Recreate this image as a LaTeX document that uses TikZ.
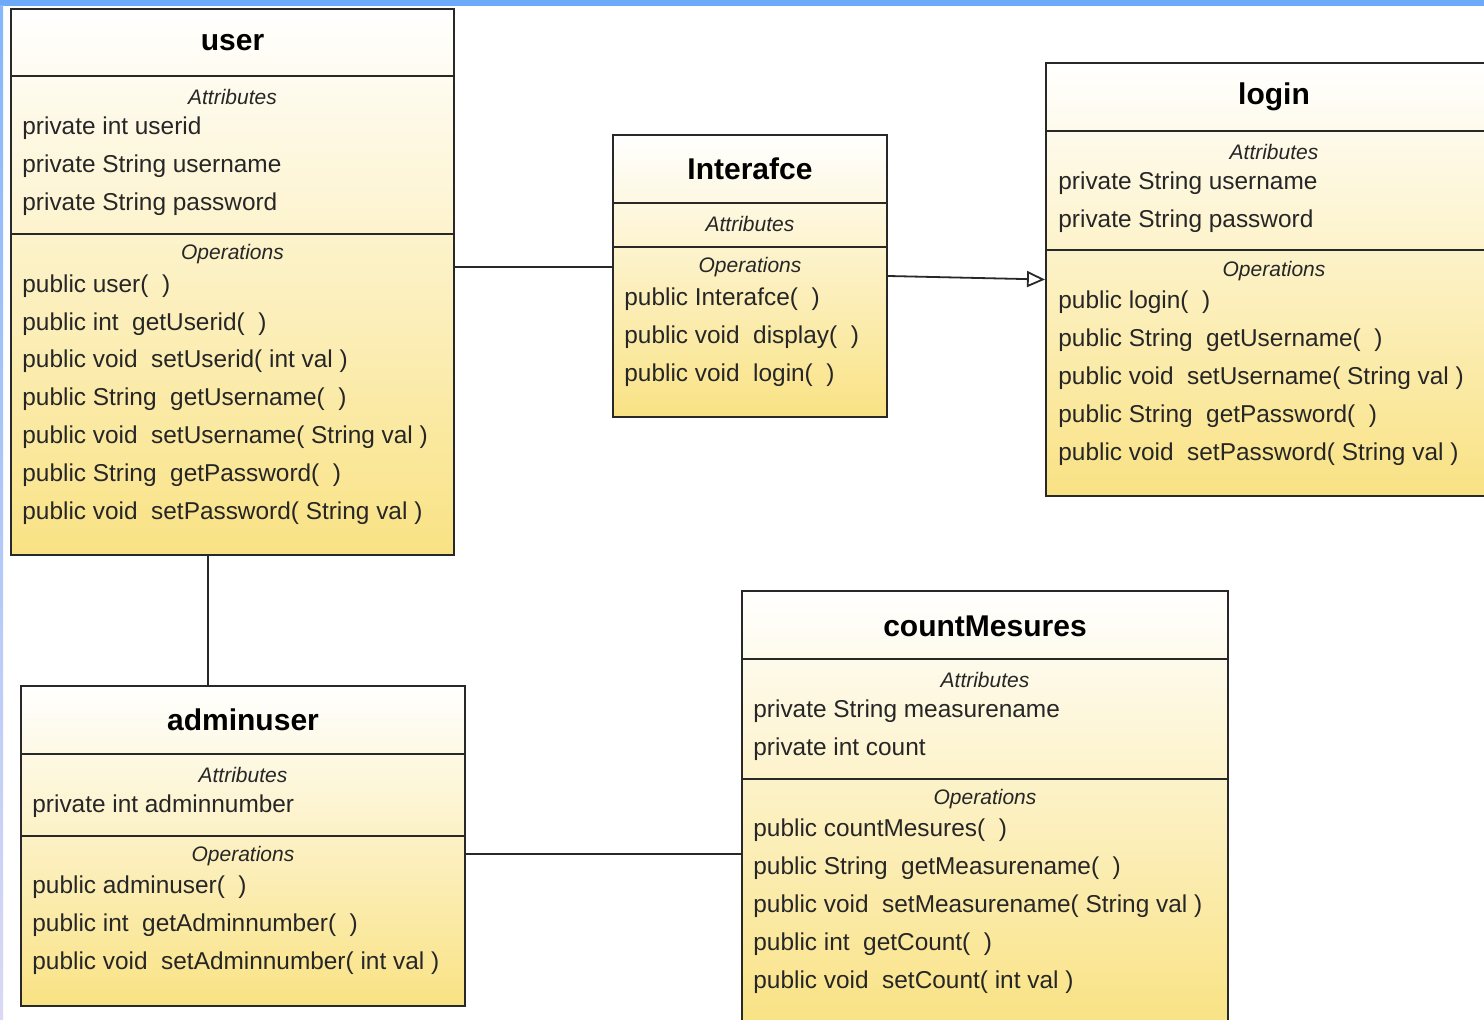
\documentclass[tikz,border=0pt]{standalone}
\usepackage{fontspec}
\setmainfont{Liberation Sans}
\usetikzlibrary{arrows.meta}
\definecolor{boxyellow}{RGB}{249,226,132}
\definecolor{boxline}{RGB}{40,40,40}
\definecolor{frameblue}{RGB}{110,170,250}
\definecolor{framelilac}{RGB}{218,216,245}

\begin{document}
\begin{tikzpicture}[x=0.5pt, y=-0.5pt,
    class/.style={draw=boxline, line width=1pt, top color=white, bottom color=boxyellow, inner sep=0pt},
    divider/.style={draw=boxline, line width=1pt},
    title/.style={font=\fontsize{15}{18}\selectfont\bfseries, text=black, inner sep=0pt},
    section/.style={font=\fontsize{10.5}{12}\selectfont\itshape, text=black!85, inner sep=0pt},
    member/.style={anchor=west, font=\fontsize{12.2}{14}\selectfont, text=black!85, inner sep=0pt, yshift=-1pt},
    assoc/.style={draw=boxline, line width=0.9pt},
    inherit/.style={assoc, -{Triangle[length=9pt, width=8pt, fill=white, line width=0.9pt]}}]

                % page
                \useasboundingbox (0,0) rectangle (1484,1020);
                \clip (0,0) rectangle (1484,1020);
                \fill[white] (0,0) rectangle (1484,1020);

                % class boxes
                \node[class, minimum width=221.5pt, minimum height=273pt] (user) at (232.5,282) {};
                \node[class, minimum width=137pt, minimum height=141pt] (ifc) at (750,276) {};
                \node[class, minimum width=228pt, minimum height=216.5pt] (login) at (1274,279.5) {};
                \node[class, minimum width=222pt, minimum height=160pt] (admin) at (243,846) {};
                \node[class, minimum width=243pt, minimum height=217.5pt] (cm) at (985,808.5) {};

                % compartment lines
                \foreach \c/\a/\b in {user/76/234, ifc/203/247, login/131/250, admin/754/836, cm/659/779}
                    \draw[divider] (\c.west |- 0,\a) -- (\c.east |- 0,\a)
                                   (\c.west |- 0,\b) -- (\c.east |- 0,\b);

                % class names
                \foreach \c/\t/\y in {user/user/43, ifc/Interafce/169, login/login/97, admin/adminuser/720, cm/countMesures/626}
                    \node[title] (\c-title) at (\c.center |- 0,\y) {\t};

                % compartment headings
                \foreach \c/\a/\o in {user/97/254, ifc/224/267, login/152/271, admin/775/856, cm/680/799}
                {
                    \node[section] (\c-attr) at (\c.center |- 0,\a) {Attributes};
                    \node[section] (\c-ops) at (\c.center |- 0,\o) {Operations};
                }

                % user
                \foreach \m [count=\i from 0] in {private int userid, private String username, private String password}
                    \node[member] (user-a\i) at (22,126+\i*38) {\m};
                \foreach \m [count=\i from 0] in {public user(\ \ ), public int\ \ getUserid(\ \ ), public void\ \ setUserid( int val ),
                        public String\ \ getUsername(\ \ ), public void\ \ setUsername( String val ),
                        public String\ \ getPassword(\ \ ), public void\ \ setPassword( String val )}
                    \node[member] (user-o\i) at (22,284+\i*37.8) {\m};

                % Interafce
                \foreach \m [count=\i from 0] in {public Interafce(\ \ ), public void\ \ display(\ \ ), public void\ \ login(\ \ )}
                    \node[member] (ifc-o\i) at (624,297+\i*38) {\m};

                % login
                \foreach \m [count=\i from 0] in {private String username, private String password}
                    \node[member] (login-a\i) at (1058,181+\i*38) {\m};
                \foreach \m [count=\i from 0] in {public login(\ \ ), public String\ \ getUsername(\ \ ), public void\ \ setUsername( String val ),
                        public String\ \ getPassword(\ \ ), public void\ \ setPassword( String val )}
                    \node[member] (login-o\i) at (1058,300+\i*38) {\m};

                % adminuser
                \node[member] (admin-a0) at (32,804) {private int adminnumber};
                \foreach \m [count=\i from 0] in {public adminuser(\ \ ), public int\ \ getAdminnumber(\ \ ), public void\ \ setAdminnumber( int val )}
                    \node[member] (admin-o\i) at (32,885+\i*38) {\m};

                % countMesures
                \foreach \m [count=\i from 0] in {private String measurename, private int count}
                    \node[member] (cm-a\i) at (753,709+\i*38) {\m};
                \foreach \m [count=\i from 0] in {public countMesures(\ \ ), public String\ \ getMeasurename(\ \ ), public void\ \ setMeasurename( String val ),
                        public int\ \ getCount(\ \ ), public void\ \ setCount( int val )}
                    \node[member] (cm-o\i) at (753,828+\i*38) {\m};

                % associations
                \draw[assoc] ([yshift=4.5pt]ifc.west) -- ([yshift=4.5pt]ifc.west -| user.east);
                \draw[assoc] ([xshift=-12.25pt]user.south) -- ([xshift=-12.25pt]user.south |- admin.north);
                \draw[assoc] ([yshift=-4pt]admin.east) -- ([yshift=-4pt]admin.east -| cm.west);

                % generalisation
                \draw[inherit] (ifc.east) -- (login.west);

                % window frame
                \fill[frameblue] (0,0) rectangle (1484,6);
                \shade[top color=frameblue!85, bottom color=framelilac] (0,6) rectangle (3,1020);

            \end{tikzpicture}
\end{document}
